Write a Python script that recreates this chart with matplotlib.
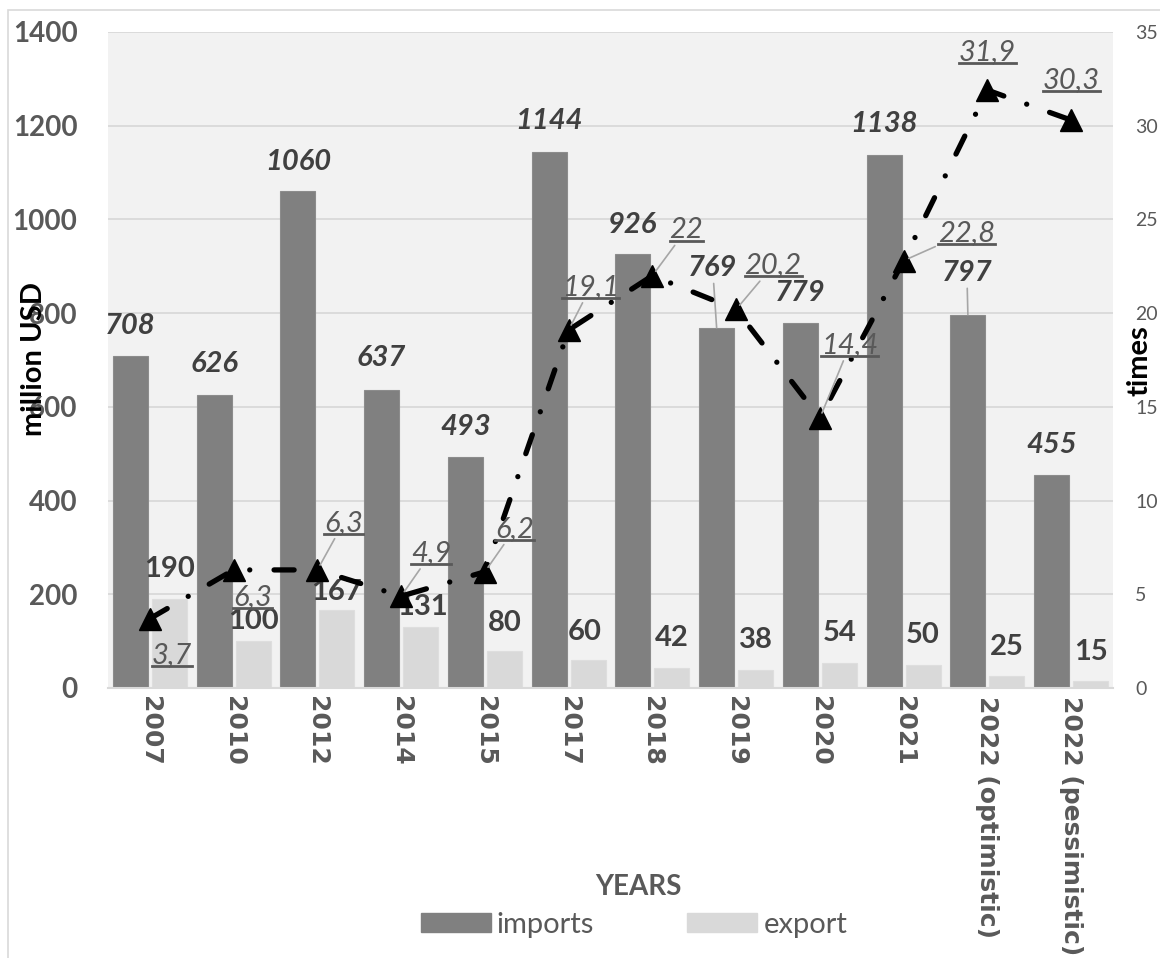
import matplotlib
matplotlib.use("Agg")
import matplotlib.pyplot as plt
from matplotlib.lines import Line2D
from matplotlib.patches import Patch, Rectangle
from matplotlib.text import Text
import numpy as np

# --- data ---
years = ["2007", "2010", "2012", "2014", "2015", "2017", "2018", "2019",
         "2020", "2021", "2022 (optimistic)", "2022 (pessimistic)"]
imports = [708, 626, 1060, 637, 493, 1144, 926, 769, 779, 1138, 797, 455]
export = [190, 100, 167, 131, 80, 60, 42, 38, 54, 50, 25, 15]
times = [3.7, 6.3, 6.3, 4.9, 6.2, 19.1, 22, 20.2, 14.4, 22.8, 31.9, 30.3]

# label placement (pixel offsets from the point they belong to)
imp_off = [(0, 30), (0, 31), (0, 29), (0, 32), (0, 30), (0, 31),
           (0, 29), (-4, 60), (0, 30), (0, 31), (-1, 42), (0, 30)]
exp_off = [(0, 30), (0, 20), (0, 18), (2, 20), (0, 28), (-3, 28),
           (0, 30), (0, 30), (0, 30), (0, 30), (0, 29), (0, 29)]
times_off = [(22, -36), (19, -27), (26, 47), (30, 43), (30, 43), (22, 43),
             (34, 46), (37, 44), (30, 73), (63, 28), (0, 38), (0, 40)]
times_leader = [False, False, True, True, True, True,
                True, True, True, True, False, False]

W, H = 1160, 958
DARK = "#404040"
GREY = "#595959"

fig = plt.figure(figsize=(W / 100, H / 100), dpi=100)
fig.patch.set_facecolor("white")
fig.add_artist(Rectangle((8 / W, -0.1), 2, (H - 10) / H + 0.1, transform=fig.transFigure,
                         fill=False, edgecolor="#D9D9D9", lw=1.2, clip_on=False))

left, right, top, bottom = 108, 1113, 32, 688
ax = fig.add_axes([left / W, (H - bottom) / H, (right - left) / W, (bottom - top) / H])
ax.set_facecolor("#F2F2F2")

x = np.arange(len(years))
bw = 35 / 83.75
off = 19.5 / 83.75
ax.bar(x - off, imports, bw, color="#808080", edgecolor="#8C8C8C", lw=0.8, label="imports", zorder=2)
ax.bar(x + off, export, bw, color="#D9D9D9", edgecolor="#DEDEDE", lw=0.8, label="export", zorder=2)

ax.set_xlim(-0.5, len(years) - 0.5)
ax.set_ylim(0, 1400)
ax.set_yticks(range(0, 1401, 200))
ax.yaxis.grid(True, color="#D9D9D9", lw=1.3)
ax.set_axisbelow(True)
for s in ["left", "right", "top"]:
    ax.spines[s].set_visible(False)
ax.spines["bottom"].set_color("#D9D9D9")
ax.spines["bottom"].set_linewidth(1.5)
ax.tick_params(axis="y", length=0, pad=22, labelsize=20, labelcolor=GREY)
ax.tick_params(axis="x", length=0, pad=6)
for t in ax.get_yticklabels():
    t.set_fontfamily("Lato")
    t.set_fontweight("bold")
ax.set_xticks(x)
ax.set_xticklabels(years, rotation=-90, fontsize=18, fontweight="bold", color=GREY,
                   family="DejaVu Sans", va="top", ha="center")

for i in range(len(years)):
    ax.annotate(str(imports[i]), (x[i] - off, imports[i]), xytext=imp_off[i],
                textcoords="offset pixels", ha="center", va="center",
                fontsize=21, fontweight="bold", style="italic", color=DARK, family="Lato",
                arrowprops=dict(arrowstyle="-", color="#A6A6A6", lw=1.2, shrinkA=0, shrinkB=0)
                if imp_off[i][1] > 35 else None, zorder=5)
    ax.annotate(str(export[i]), (x[i] + off, export[i]), xytext=exp_off[i],
                textcoords="offset pixels", ha="center", va="center",
                fontsize=21, fontweight="bold", color=DARK, family="Lato", zorder=5)

ax2 = ax.twinx()
ax2.set_ylim(0, 35)
ax2.set_yticks(range(0, 36, 5))
for s in ["left", "right", "top", "bottom"]:
    ax2.spines[s].set_visible(False)
ax2.tick_params(axis="y", length=0, pad=16, labelsize=14, labelcolor=GREY)
for t in ax2.get_yticklabels():
    t.set_fontfamily("Lato")

ax2.plot(x, times, color="black", lw=3.8, ls=(0, (3.8, 4.6, 0.01, 4.6)),
         dash_capstyle="round", marker="^", ms=16, mfc="black", mec="black", zorder=3)

tlabels = []
for i, v in enumerate(times):
    s = f"{v:g}".replace(".", ",")
    t = ax2.annotate(s, (x[i], v), xytext=times_off[i], textcoords="offset pixels",
                     ha="center", va="center", fontsize=21, style="italic", color=GREY,
                     family="Lato",
                     arrowprops=dict(arrowstyle="-", color="#A6A6A6", lw=1.2,
                                     shrinkA=0, shrinkB=4) if times_leader[i] else None,
                     zorder=5)
    tlabels.append(t)

fig.text(34 / W, 1 - 359 / H, "million USD", rotation=90, ha="center", va="center",
         fontsize=21, fontweight="bold", color="black", family="Lato")
fig.text(1140 / W, 1 - 361 / H, "times", rotation=90, ha="center", va="center",
         fontsize=21, fontweight="bold", color="black", family="Lato")
fig.text(638 / W, 1 - 887 / H, "YEARS", ha="center", va="center",
         fontsize=20, fontweight="bold", color=GREY, family="Lato")

fig.legend(handles=[Patch(color="#808080", label="imports"), Patch(color="#D9D9D9", label="export")],
           loc="center", bbox_to_anchor=(634 / W, 1 - 925 / H), ncol=2, frameon=False,
           prop={"family": "Lato", "size": 21}, labelcolor=GREY,
           handlelength=2.4, handleheight=0.6, handletextpad=0.2, columnspacing=3.2)

# underline the ratio labels (text box only, not the leader line)
fig.canvas.draw()
r = fig.canvas.get_renderer()
for t in tlabels:
    bb = Text.get_window_extent(t, r)
    y0 = bb.y0 + 2
    fig.add_artist(Line2D([bb.x0 / W, bb.x1 / W], [y0 / H, y0 / H], transform=fig.transFigure,
                          color=GREY, lw=2))

fig.savefig("out.png", dpi=100)
